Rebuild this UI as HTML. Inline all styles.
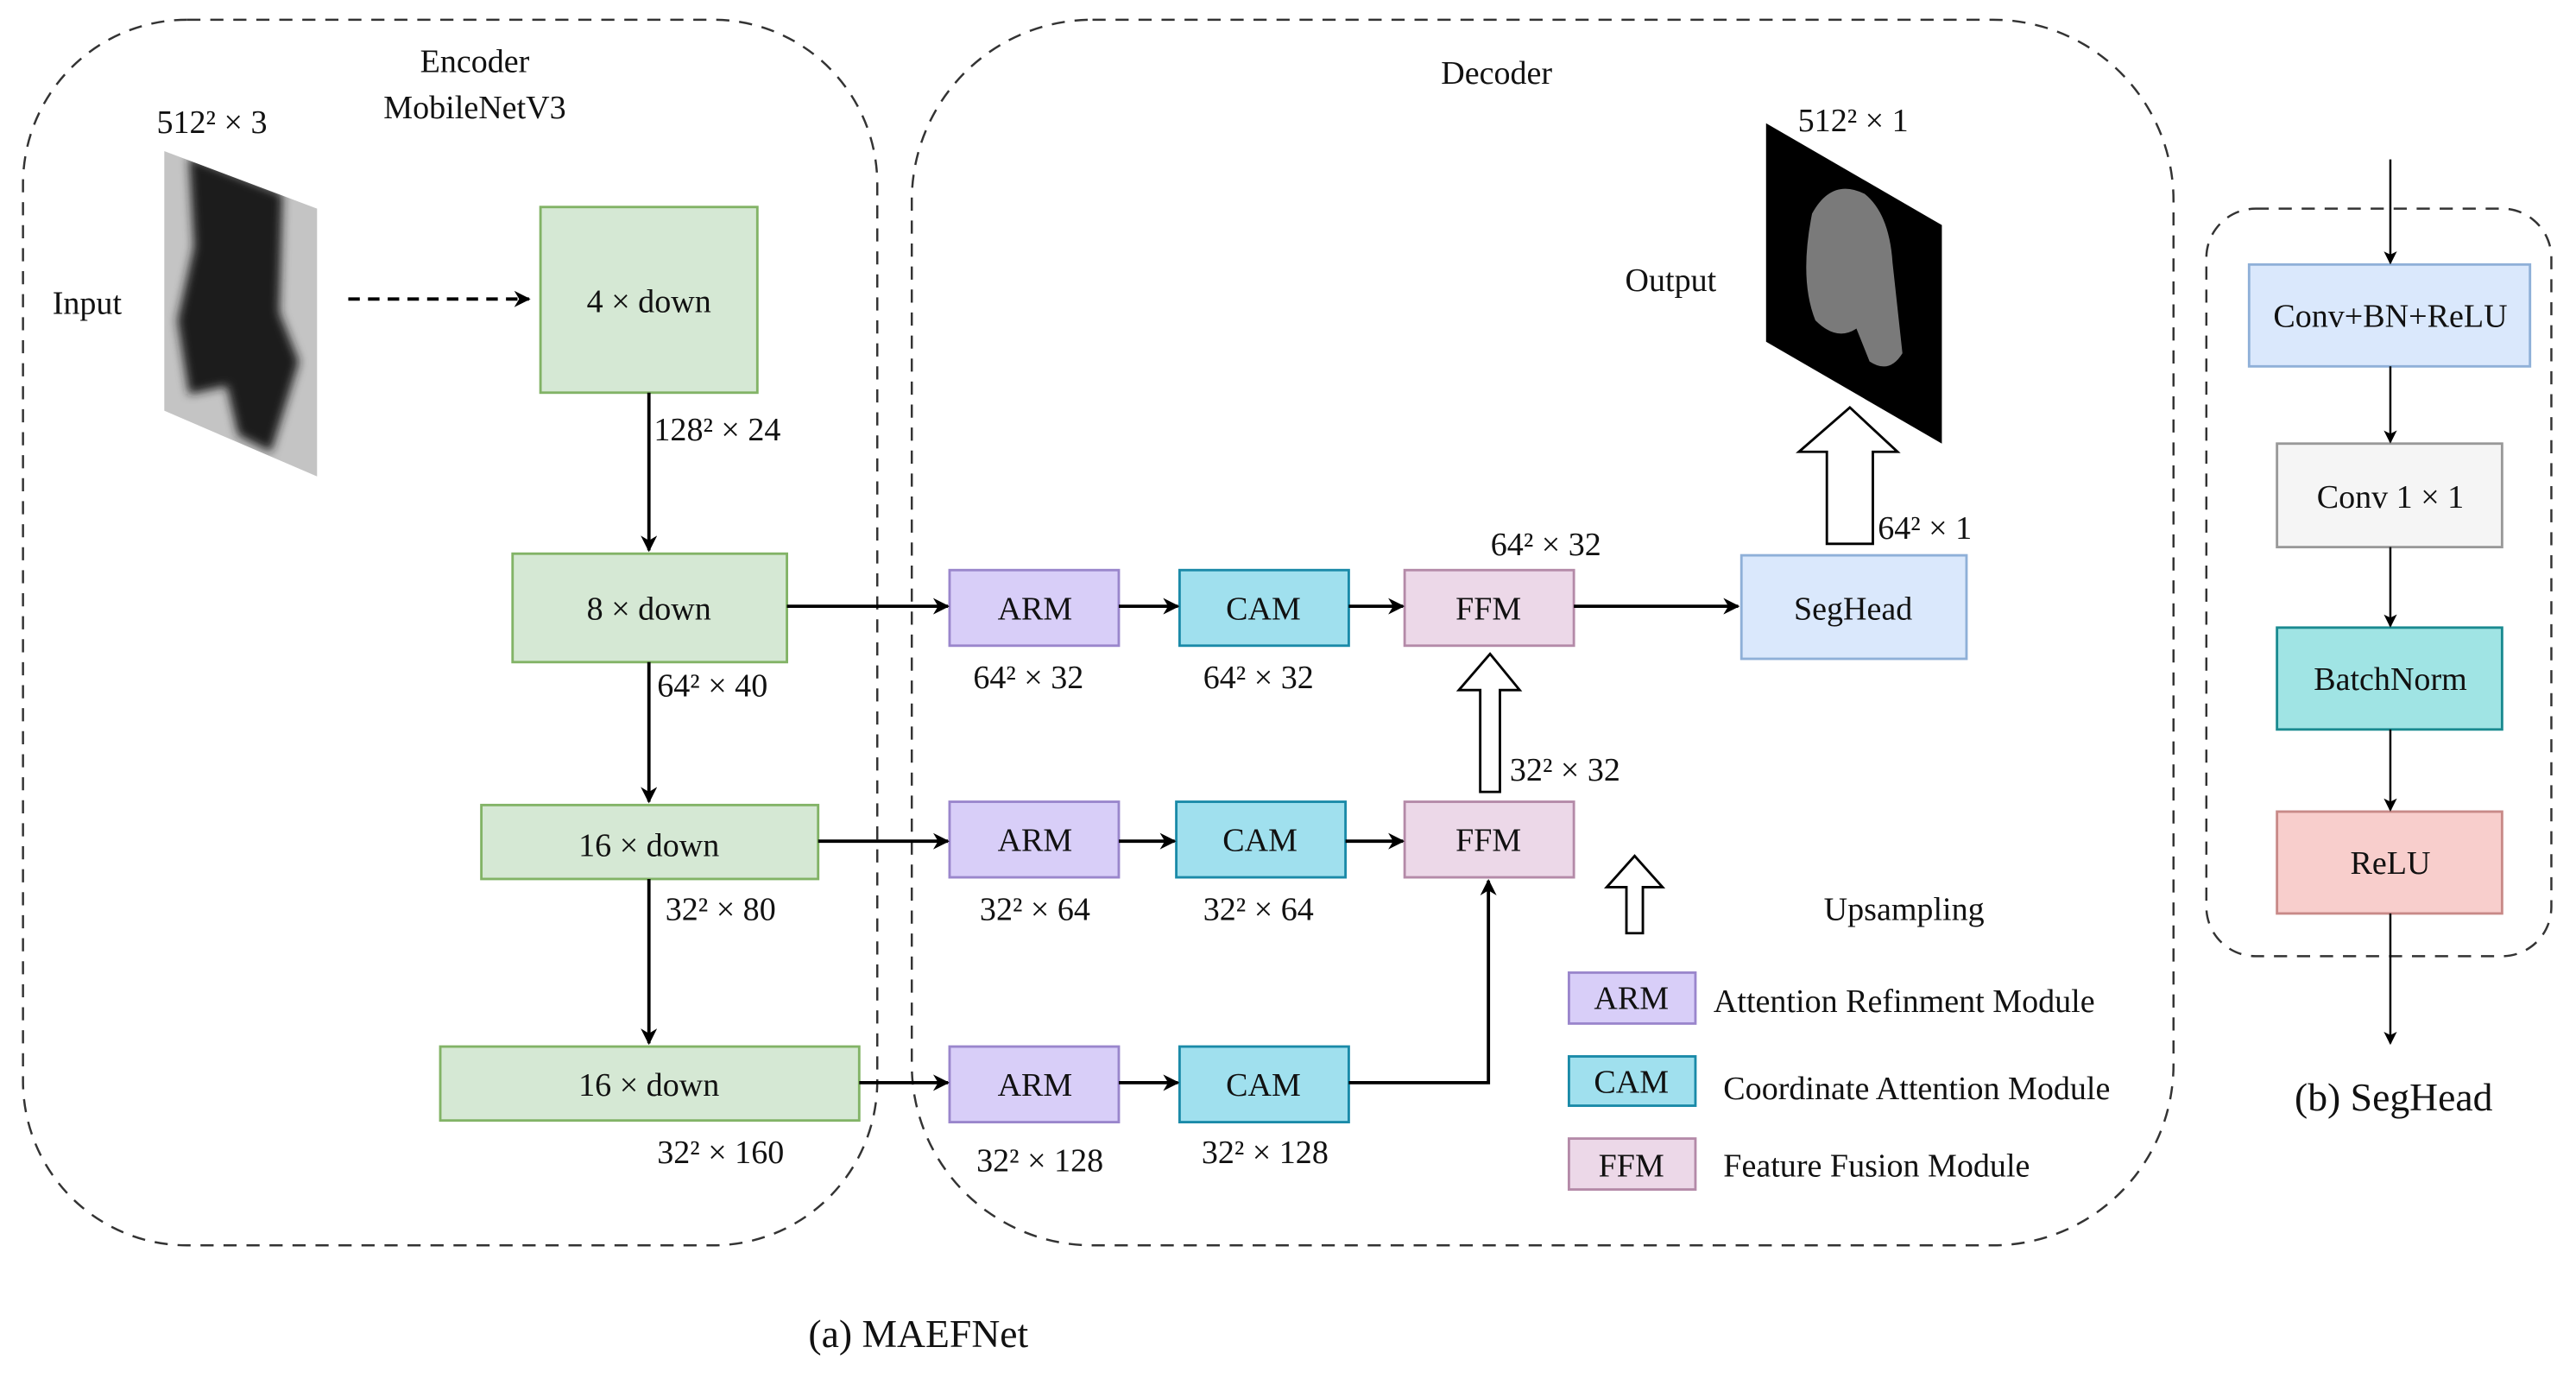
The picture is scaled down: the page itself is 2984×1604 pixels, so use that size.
<!DOCTYPE html>
<html><head><meta charset="utf-8"><style>html,body{margin:0;padding:0;background:#fff}svg{display:block}
svg text{font-family:"Liberation Serif","DejaVu Serif",serif;}</style></head>
<body>
<svg width="2984" height="1604" viewBox="0 0 1568 843" preserveAspectRatio="none" xmlns="http://www.w3.org/2000/svg" font-size="20" fill="#111">
<defs>
<marker id="ah" markerWidth="10" markerHeight="10" refX="9" refY="5" orient="auto" markerUnits="userSpaceOnUse"><path d="M0,0 L10,5 L0,10 L3,5 z" fill="#000"/></marker>
<marker id="ah2" markerWidth="8" markerHeight="8" refX="7" refY="4" orient="auto" markerUnits="userSpaceOnUse"><path d="M0,0 L8,4 L0,8 L2,4 z" fill="#000"/></marker>
<filter id="bl"><feGaussianBlur stdDeviation="3"/></filter>
<clipPath id="cp"><polygon points="100,92 193,127 193,290 100,250"/></clipPath>
</defs>
<rect width="1568" height="843" fill="#fff"/>
<rect x="14" y="12" width="520" height="746" rx="100" fill="none" stroke="#333" stroke-width="1.3" stroke-dasharray="8,6"/>
<rect x="555" y="12" width="768" height="746" rx="110" fill="none" stroke="#333" stroke-width="1.3" stroke-dasharray="8,6"/>
<rect x="1343" y="127" width="210" height="455" rx="30" fill="none" stroke="#333" stroke-width="1.3" stroke-dasharray="8,6"/>

<g text-anchor="middle">
<text x="289" y="44">Encoder</text>
<text x="289" y="72">MobileNetV3</text>
<text x="129" y="81">512² × 3</text>
<text x="53" y="191">Input</text>
<text x="911" y="51">Decoder</text>
<text x="1128" y="80">512² × 1</text>
<text x="1017" y="177">Output</text>
</g>
<polygon points="100,92 193,127 193,290 100,250" fill="#c4c4c4"/>
<g clip-path="url(#cp)">
<path d="M115,95 L172,118 L170,190 L182,220 L165,275 L145,265 L138,235 L115,240 L108,195 L118,150 Z" fill="#1e1e1e" filter="url(#bl)"/>
</g>
<polygon points="1075,75 1182,137 1182,270 1075,208" fill="#000"/>
<path d="M1103,130 Q1115,108 1135,118 Q1150,130 1152,160 L1158,215 Q1150,228 1138,220 L1130,200 Q1118,208 1105,195 Q1095,170 1103,130 Z" fill="#7a7a7a"/>

<g fill="#d5e8d4" stroke="#82b366" stroke-width="1.5">
<rect x="329" y="126" width="132" height="113"/>
<rect x="312" y="337" width="167" height="66"/>
<rect x="293" y="490" width="205" height="45"/>
<rect x="268" y="637" width="255" height="45"/>
</g>
<g text-anchor="middle">
<text x="395" y="190">4 × down</text>
<text x="395" y="377">8 × down</text>
<text x="395" y="521">16 × down</text>
<text x="395" y="667">16 × down</text>
</g>
<text x="398" y="268">128² × 24</text>
<text x="400" y="424">64² × 40</text>
<text x="405" y="560">32² × 80</text>
<text x="400" y="708">32² × 160</text>

<g fill="#d8cef8" stroke="#9a86cc" stroke-width="1.5">
<rect x="578" y="347" width="103" height="46"/>
<rect x="578" y="488" width="103" height="46"/>
<rect x="578" y="637" width="103" height="46"/>
<rect x="955" y="592" width="77" height="31"/>
</g>
<g fill="#a0e0ee" stroke="#1a8aa8" stroke-width="1.5">
<rect x="718" y="347" width="103" height="46"/>
<rect x="716" y="488" width="103" height="46"/>
<rect x="718" y="637" width="103" height="46"/>
<rect x="955" y="643" width="77" height="30"/>
</g>
<g fill="#ecd8e8" stroke="#b48aa8" stroke-width="1.5">
<rect x="855" y="347" width="103" height="46"/>
<rect x="855" y="488" width="103" height="46"/>
<rect x="955" y="693" width="77" height="31"/>
</g>
<rect x="1060" y="338" width="137" height="63" fill="#dae8fc" stroke="#8fb0d8" stroke-width="1.5"/>
<g text-anchor="middle">
<text x="630" y="377">ARM</text><text x="769" y="377">CAM</text><text x="906" y="377">FFM</text>
<text x="630" y="518">ARM</text><text x="767" y="518">CAM</text><text x="906" y="518">FFM</text>
<text x="630" y="667">ARM</text><text x="769" y="667">CAM</text>
<text x="1128" y="377">SegHead</text>
<text x="993" y="614">ARM</text><text x="993" y="665">CAM</text><text x="993" y="716">FFM</text>
<text x="626" y="419">64² × 32</text><text x="766" y="419">64² × 32</text>
<text x="630" y="560">32² × 64</text><text x="766" y="560">32² × 64</text>
<text x="633" y="713">32² × 128</text><text x="770" y="708">32² × 128</text>
<text x="941" y="338">64² × 32</text>
<text x="1159" y="560">Upsampling</text>
<text x="559" y="820" font-size="24">(a) MAEFNet</text>
<text x="1457" y="676" font-size="24">(b) SegHead</text>
</g>
<text x="919" y="475">32² × 32</text>
<text x="1143" y="328">64² × 1</text>
<text x="1043" y="616">Attention Refinment Module</text>
<text x="1049" y="669">Coordinate Attention Module</text>
<text x="1049" y="716">Feature Fusion Module</text>

<g stroke="#000" stroke-width="2" fill="none">
<line x1="212" y1="182" x2="322" y2="182" stroke-dasharray="7,5" marker-end="url(#ah)"/>
<line x1="395" y1="239" x2="395" y2="335" marker-end="url(#ah)"/>
<line x1="395" y1="403" x2="395" y2="488" marker-end="url(#ah)"/>
<line x1="395" y1="535" x2="395" y2="635" marker-end="url(#ah)"/>
<line x1="479" y1="369" x2="577" y2="369" marker-end="url(#ah)"/>
<line x1="498" y1="512" x2="577" y2="512" marker-end="url(#ah)"/>
<line x1="523" y1="659" x2="577" y2="659" marker-end="url(#ah)"/>
<line x1="681" y1="369" x2="717" y2="369" marker-end="url(#ah)"/>
<line x1="821" y1="369" x2="854" y2="369" marker-end="url(#ah)"/>
<line x1="681" y1="512" x2="715" y2="512" marker-end="url(#ah)"/>
<line x1="819" y1="512" x2="854" y2="512" marker-end="url(#ah)"/>
<line x1="681" y1="659" x2="717" y2="659" marker-end="url(#ah)"/>
<polyline points="821,659 906,659 906,536" marker-end="url(#ah)"/>
<line x1="958" y1="369" x2="1058" y2="369" marker-end="url(#ah)"/>
</g>
<g stroke="#000" stroke-width="1.5" fill="#fff">
<polygon points="901,482 913,482 913,420 925,420 907,398 888,420 901,420"/>
<polygon points="1112,331 1140,331 1140,275 1155,275 1126,248 1095,275 1112,275"/>
<polygon points="990,568 1000,568 1000,540 1012,540 995,521 978,540 990,540"/>
</g>

<rect x="1369" y="161" width="171" height="62" fill="#dae8fc" stroke="#8fb0d8" stroke-width="1.5"/>
<rect x="1386" y="270" width="137" height="63" fill="#f5f5f5" stroke="#999" stroke-width="1.5"/>
<rect x="1386" y="382" width="137" height="62" fill="#a0e4e4" stroke="#1a8a90" stroke-width="1.5"/>
<rect x="1386" y="494" width="137" height="62" fill="#f8cecc" stroke="#c88a88" stroke-width="1.5"/>
<g text-anchor="middle">
<text x="1455" y="199">Conv+BN+ReLU</text>
<text x="1455" y="309">Conv 1 × 1</text>
<text x="1455" y="420">BatchNorm</text>
<text x="1455" y="532">ReLU</text>
</g>
<g stroke="#000" stroke-width="1.3">
<line x1="1455" y1="97" x2="1455" y2="160" marker-end="url(#ah2)"/>
<line x1="1455" y1="223" x2="1455" y2="269" marker-end="url(#ah2)"/>
<line x1="1455" y1="333" x2="1455" y2="381" marker-end="url(#ah2)"/>
<line x1="1455" y1="444" x2="1455" y2="493" marker-end="url(#ah2)"/>
<line x1="1455" y1="556" x2="1455" y2="635" marker-end="url(#ah2)"/>
</g>
</svg>
</body></html>
